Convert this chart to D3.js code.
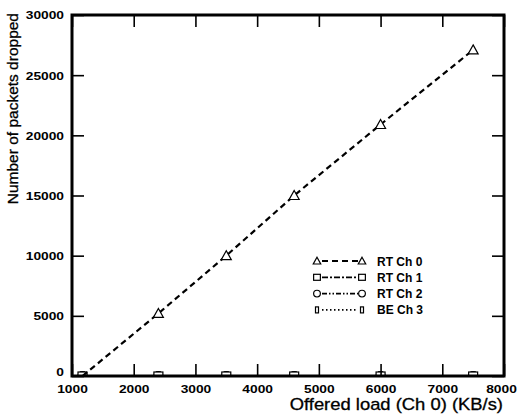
<!DOCTYPE html>
<html>
<head>
<meta charset="utf-8">
<script src="https://cdn.jsdelivr.net/npm/d3@7"></script>
<style>
  body { margin: 0; background: #fff; }
  text { font-family: Arial, "Liberation Sans", sans-serif; }
</style>
</head>
<body>
<svg id="chart" width="517" height="416"></svg>
<script>
// datos
var carga = [1170, 2400, 3500, 4600, 6000, 7500];
var rtCh0 = [0, 5200, 10000, 15000, 20900, 27100];
var rtCh1 = [0, 0, 0, 0, 0, 0];
var rtCh2 = [0, 0, 0, 0, 0, 0];
var beCh3 = [0, 0, 0, 0, 0, 0];
var ticksX = [1000, 2000, 3000, 4000, 5000, 6000, 7000, 8000];
var ticksY = [0, 5000, 10000, 15000, 20000, 25000, 30000];
var nombres = ["RT Ch 0", "RT Ch 1", "RT Ch 2", "BE Ch 3"];

var svg = d3.select("#chart");
var m = { left: 72, right: 13, top: 15, bottom: 40 };
var W = 517, H = 416;

var x = d3.scaleLinear().domain([1000, 8000]).range([m.left, W - m.right]);
var y = d3.scaleLinear().domain([0, 30000]).range([H - m.bottom, m.top]);

var series = [
  { nombre: nombres[0], vals: rtCh0, dash: "6,4", sym: "tri" },
  { nombre: nombres[1], vals: rtCh1, dash: "6,2,2,2", sym: "sq" },
  { nombre: nombres[2], vals: rtCh2, dash: "5,2,1.5,2,1.5,2", sym: "circ" },
  { nombre: nombres[3], vals: beCh3, dash: "1.5,2.5", sym: "bar" }
];

// k = escala del simbolo
function simbolo(g, tipo, cx, cy, k) {
  k = k || 1;
  if (tipo == "tri") {
    g.append("path")
      .attr("d", "M" + cx + "," + (cy - 5 * k) + " L" + (cx + 5 * k) + "," + (cy + 4 * k) + " L" + (cx - 5 * k) + "," + (cy + 4 * k) + " Z")
      .attr("fill", "#fff").attr("stroke", "#000").attr("stroke-width", 1.2);
  } else if (tipo == "sq") {
    g.append("rect").attr("x", cx - 4.5 * k).attr("y", cy - 4 * k).attr("width", 9 * k).attr("height", 8 * k)
      .attr("fill", "#fff").attr("stroke", "#000").attr("stroke-width", 1.2);
  } else if (tipo == "circ") {
    g.append("circle").attr("cx", cx).attr("cy", cy).attr("r", 4.5 * k)
      .attr("fill", "#fff").attr("stroke", "#000").attr("stroke-width", 1.2);
  } else {
    g.append("rect").attr("x", cx - 2 * k).attr("y", cy - 4 * k).attr("width", 4 * k).attr("height", 8 * k)
      .attr("fill", "#fff").attr("stroke", "#000").attr("stroke-width", 1.2);
  }
}

svg.append("clipPath").attr("id", "area")
  .append("rect")
  .attr("x", x(1000)).attr("y", y(30000))
  .attr("width", x(8000) - x(1000)).attr("height", y(0) - y(30000));

// lineas y marcadores
var linea = d3.line().x(function (d, i) { return x(carga[i]); }).y(function (d) { return y(d); });
var gDatos = svg.append("g").attr("clip-path", "url(#area)");
series.slice().reverse().forEach(function (s) {
  gDatos.append("path").datum(s.vals)
    .attr("d", linea)
    .attr("fill", "none").attr("stroke", "#000").attr("stroke-width", 2.2)
    .attr("stroke-dasharray", s.dash);
  s.vals.forEach(function (v, i) {
    if (s.sym == "tri" && i == 0) return;
    simbolo(gDatos, s.sym, x(carga[i]), y(v));
  });
});

// ejes con marcas hacia dentro en los cuatro lados
var fuenteTicks = function (g) {
  g.selectAll("text").attr("font-size", 11).attr("font-weight", "bold").attr("fill", "#000");
  g.selectAll("line").attr("stroke-width", 1.6);
  g.select(".domain").remove();
};
svg.append("g").attr("transform", "translate(0," + y(0) + ")")
  .call(d3.axisBottom(x).tickValues(ticksX).tickSize(-12).tickFormat(d3.format("d")))
  .call(fuenteTicks)
  .call(function (g) {
    g.selectAll(".tick text").attr("y", 0).attr("dy", 0)
      .attr("transform", function (d) { return "translate(" + (d == 8000 ? -3 : 0) + ",17) scale(1.25,1)"; });
  });
svg.append("g").attr("transform", "translate(0," + y(30000) + ")")
  .call(d3.axisTop(x).tickValues(ticksX).tickSize(-12).tickFormat(""))
  .call(fuenteTicks);
svg.append("g").attr("transform", "translate(" + x(1000) + ",0)")
  .call(d3.axisLeft(y).tickValues(ticksY).tickSize(-12).tickFormat(d3.format("d")))
  .call(fuenteTicks)
  .call(function (g) {
    g.selectAll(".tick text").attr("x", 0).attr("dy", "0.35em")
      .attr("transform", function (d) { return "translate(-8," + (d == 0 ? -4 : 0) + ") scale(1.25,1)"; });
  });
svg.append("g").attr("transform", "translate(" + x(8000) + ",0)")
  .call(d3.axisRight(y).tickValues(ticksY).tickSize(-12).tickFormat(""))
  .call(fuenteTicks);

// marco
svg.append("rect")
  .attr("x", x(1000)).attr("y", y(30000))
  .attr("width", x(8000) - x(1000)).attr("height", y(0) - y(30000))
  .attr("fill", "none").attr("stroke", "#000").attr("stroke-width", 3);

// titulos de ejes
svg.append("text")
  .attr("transform", "translate(18,13) rotate(-90)")
  .attr("text-anchor", "end")
  .attr("font-size", 15.5)
  .attr("stroke", "#000").attr("stroke-width", 0.3)
  .text("Number of packets dropped");
svg.append("text")
  .attr("transform", "translate(" + (x(8000) - 1) + ",410) scale(1.15,1)")
  .attr("text-anchor", "end")
  .attr("font-size", 16)
  .attr("stroke", "#000").attr("stroke-width", 0.3)
  .text("Offered load (Ch 0) (KB/s)");

// leyenda
var ley = svg.append("g");
series.forEach(function (s, i) {
  var ly = 261 + i * 16.3;
  ley.append("line")
    .attr("x1", 322).attr("x2", 358).attr("y1", ly).attr("y2", ly)
    .attr("stroke", "#000").attr("stroke-width", 1.8).attr("stroke-dasharray", s.dash);
  simbolo(ley, s.sym, 317, ly, 0.75);
  simbolo(ley, s.sym, 362, ly, 0.75);
  ley.append("text")
    .attr("x", 377).attr("y", ly + 4.5)
    .attr("font-size", 12).attr("font-weight", "bold")
    .text(s.nombre);
});
</script>
</body>
</html>
